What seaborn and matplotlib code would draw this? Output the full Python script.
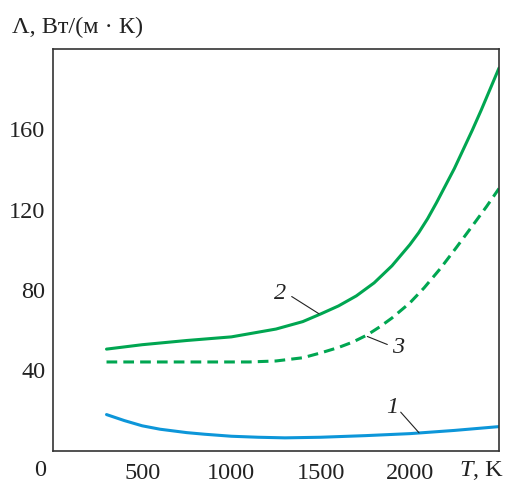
import numpy as np
import pandas as pd
import matplotlib
matplotlib.use("Agg")
import matplotlib.pyplot as plt
import seaborn as sns

# Thermal conductivity vs temperature, three curves
T1 = [300, 400, 500, 600, 750, 850, 1000, 1150, 1300, 1500, 1750, 2000, 2250, 2500]
L1 = [17.9, 14.9, 12.3, 10.6, 8.9, 8.1, 7.1, 6.6, 6.3, 6.6, 7.4, 8.4, 10.0, 11.9]

T2 = [300, 500, 750, 1000, 1250, 1400, 1500, 1600, 1700, 1800, 1900, 2000, 2050,
      2100, 2150, 2200, 2250, 2300, 2350, 2400, 2450, 2500]
L2 = [50.5, 52.7, 54.8, 56.6, 60.5, 64.2, 68.0, 72.0, 77.0, 83.5, 92.0, 102.5, 108.5,
      115.5, 123.5, 132.0, 140.5, 150.0, 159.5, 169.5, 180.0, 190.5]

T3 = [300, 700, 1100, 1250, 1400, 1500, 1600, 1680, 1760, 1830, 1900, 2000, 2080,
      2170, 2260, 2360, 2430, 2500]
L3 = [44.1, 44.1, 44.1, 44.6, 46.2, 48.6, 51.3, 54.0, 57.5, 61.5, 66.0, 73.5, 81.0,
      90.5, 101.0, 113.0, 121.5, 130.5]

x_ticks = [500, 1000, 1500, 2000]
y_ticks = [40, 80, 120, 160]

sns.set_theme(style="white")
plt.rcParams["font.family"] = ["Liberation Serif", "DejaVu Serif"]
FS = 17.5
plt.rcParams["font.size"] = FS

df = pd.concat([
    pd.DataFrame({"T": T1, "L": L1, "curve": "1"}),
    pd.DataFrame({"T": T2, "L": L2, "curve": "2"}),
    pd.DataFrame({"T": T3, "L": L3, "curve": "3"}),
], ignore_index=True)

fig = plt.figure(figsize=(5.09, 4.83), dpi=100)
ax = fig.add_axes([53 / 509, 1 - 450.5 / 483, 446 / 509, 401.5 / 483])

blue = "#0d96d9"
green = "#00a651"
sns.lineplot(data=df, x="T", y="L", hue="curve", style="curve",
             palette={"1": blue, "2": green, "3": green},
             dashes={"1": "", "2": "", "3": (3.5, 2.0)},
             linewidth=2.2, legend=False, sort=False, ax=ax, estimator=None)
for ln in ax.get_lines():
    ln.set_solid_joinstyle("round")
    ln.set_dash_joinstyle("round")

ax.set_xlim(0, 2500)
ax.set_ylim(0, 200)
ax.set_xticks(x_ticks)
ax.set_xticklabels([str(v) for v in x_ticks])
ax.set_yticks(y_ticks)
ax.set_yticklabels([str(v) for v in y_ticks])
ax.tick_params(direction="in", length=6, width=1.0, color="#333333",
               labelsize=FS, labelcolor="#222222")
ax.tick_params(axis="x", pad=9)
ax.tick_params(axis="y", pad=5.5)
ax.set_xlabel("")
ax.set_ylabel("")
for s in ax.spines.values():
    s.set_visible(True)
    s.set_color("#333333")
    s.set_linewidth(1.2)
ax.grid(False)

# curve numbers with leader lines
lead = dict(arrowstyle="-", color="#222222", lw=0.8, shrinkA=0, shrinkB=0)
ax.text(1272, 78.2, "2", fontsize=FS, fontstyle="italic", ha="center", va="center", color="#222222")
ax.annotate("", xy=(1491, 68.1), xytext=(1338, 76.7), arrowprops=lead)
ax.text(1934, 51.3, "3", fontsize=FS, fontstyle="italic", ha="center", va="center", color="#222222")
ax.annotate("", xy=(1762, 56.8), xytext=(1874, 52.8), arrowprops=lead)
ax.text(1900, 21.4, "1", fontsize=FS, fontstyle="italic", ha="center", va="center", color="#222222")
ax.annotate("", xy=(2052, 8.8), xytext=(1949, 19.1), arrowprops=lead)

# axis captions
fig.text(12 / 509, 1 - 33 / 483, "Λ, Вт/(м · К)", fontsize=FS, ha="left", va="baseline", color="#222222")
fig.text(40 / 509, 1 - 476 / 483, "0", fontsize=FS, ha="center", va="baseline", color="#222222")
fig.text(459 / 509, 1 - 476 / 483, "T", fontsize=FS, fontstyle="italic", ha="left", va="baseline", color="#222222")
fig.text(473 / 509, 1 - 476 / 483, ", K", fontsize=FS, ha="left", va="baseline", color="#222222")

fig.savefig("out.png", dpi=100)
